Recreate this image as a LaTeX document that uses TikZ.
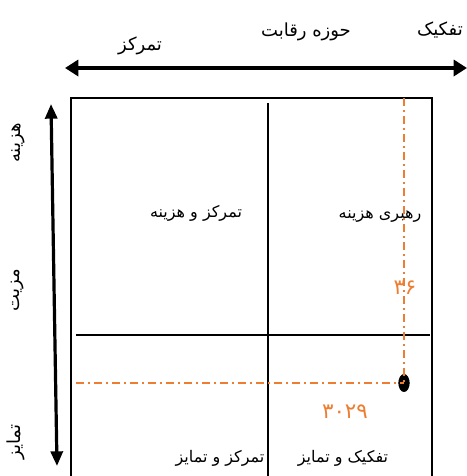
\documentclass[tikz,border=0pt]{standalone}
\usepackage{fontspec}
\usepackage{tikz}
\usetikzlibrary{arrows.meta,shapes.geometric}
\TeXXeTstate=1
\newfontfamily\arabicfont[Script=Arabic]{DejaVu Sans}
\definecolor{chartorange}{RGB}{237,125,49}
\newcommand{\fa}[1]{\arabicfont\beginR #1\endR}

\begin{document}
\begin{tikzpicture}[x=0.75pt,y=-0.75pt,
    label text/.style={font=\fontsize{12}{14}\selectfont},
    title text/.style={font=\fontsize{13.5}{16}\selectfont},
    value text/.style={font=\fontsize{16}{18}\selectfont, text=chartorange},
    axis/.style={line width=3pt,{Triangle[length=10pt,width=12pt]}-{Triangle[length=10pt,width=12pt]}},
    guide/.style={chartorange,line width=1.5pt,dash pattern=on 6pt off 3pt on 1.5pt off 3pt}]
    \useasboundingbox (0,0) rectangle (467,476);
    \clip (0,0) rectangle (467,476);
    % axes
    \coordinate (L) at (65,68);
    \coordinate (R) at (467,68);
    \coordinate (T) at (51,104);
    \coordinate (B) at (57,466);
    \draw [axis] (L) -- (R);
    \draw [line width=2.4pt,{Triangle[length=11pt,width=9pt]}-{Triangle[length=11pt,width=9pt]}] (T) -- (B);
    \node [title text] (diff) at (440,30) {\fa{تفکیک}};
    \node [title text] (scope) at (306,32) {\fa{حوزه رقابت}};
    \node [title text] (focus) at (140,46) {\fa{تمرکز}};
    \node [title text,rotate=90] (cost) at (18,143) {\fa{هزینه}};
    \node [title text,rotate=90] (adv) at (18,290) {\fa{مزیت}};
    \node [title text,rotate=90] (dist) at (16,442) {\fa{تمایز}};
    % box
    \coordinate (BL) at (71,490);
    \coordinate (TL) at (71,98);
    \coordinate (TR) at (432,98);
    \coordinate (BR) at (432,490);
    \draw [line width=2.2pt] (BL) -- (TL) -- (TR) -- (BR);
    \coordinate (MT) at (268,103);
    \coordinate (MB) at (268,490);
    \coordinate (ML) at (76,335);
    \coordinate (MR) at (430,335);
    \draw [line width=1.4pt] (MT) -- (MB);
    \draw [line width=2.2pt] (ML) -- (MR);
    \node [label text] (q1) at (196,213) {\fa{تمرکز و هزینه}};
    \node [label text] (q2) at (380,217) {\fa{رهبری هزینه}};
    \node [label text] (q3) at (220,458) {\fa{تمرکز و تمایز}};
    \node [label text] (q4) at (343,458) {\fa{تفکیک و تمایز}};
    % position
    \coordinate (GT) at (404,98);
    \coordinate (GL) at (76,383);
    \node [draw,fill=black,ellipse,inner sep=0pt,minimum width=8pt,minimum height=13pt] (pt) at (404,383) {};
    \draw [guide] (GT) -- (pt.center);
    \draw [guide] (GL) -- (pt.center);
    \node [value text] (vy) at (405,288) {\arabicfont ۳۶};
    \node [value text] (vx) at (345,412) {\arabicfont ۳۰۲۹};
\end{tikzpicture}
\end{document}
